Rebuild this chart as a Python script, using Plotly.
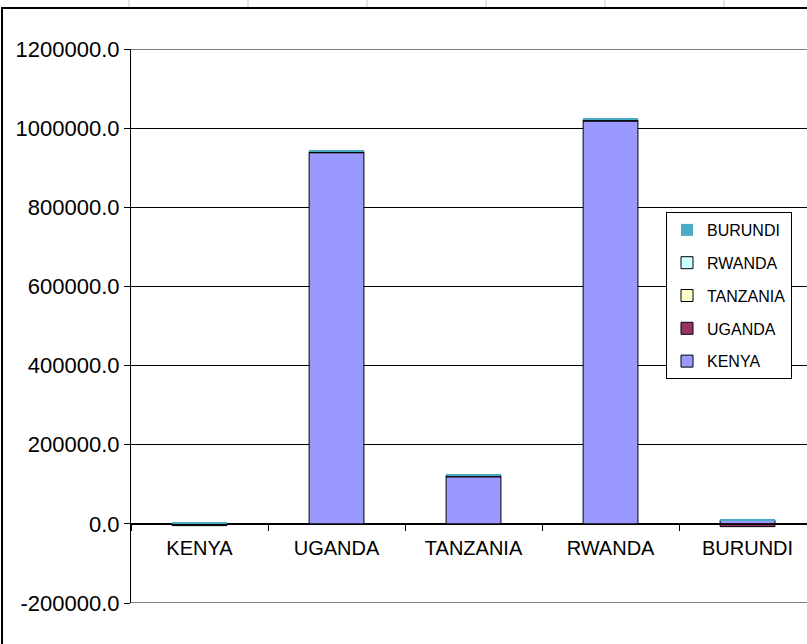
import plotly.graph_objects as go

# Categories along the x axis (reporting country)
countries = ["KENYA", "UGANDA", "TANZANIA", "RWANDA", "BURUNDI"]

# Stacked series values, one list per partner country
kenya = [-3000, 938000, 119000, 1018000, 9000]
uganda = [-1500, 1200, 3500, 1200, -7000]
tanzania = [300, 600, 400, 800, 200]
rwanda = [400, 900, 500, 1000, 300]
burundi = [2500, 2500, 600, 2800, 400]

series_names = ["KENYA", "UGANDA", "TANZANIA", "RWANDA", "BURUNDI"]
series_values = [kenya, uganda, tanzania, rwanda, burundi]
series_colors = ["#9999FF", "#993366", "#FFFFCC", "#CCFFFF", "#4BACC6"]

y_ticks = [-200000, 0, 200000, 400000, 600000, 800000, 1000000, 1200000]
y_tick_text = ["%.1f" % v for v in y_ticks]

fig = go.Figure()
n = len(series_names)
for i, (name, vals, col) in enumerate(zip(series_names, series_values, series_colors)):
    line_w = 0 if name == "BURUNDI" else 1
    fig.add_trace(go.Bar(
        x=countries, y=vals, name=name, legendgroup=name,
        legendrank=n - i,
        marker=dict(color=col, line=dict(color="#000000", width=line_w)),
    ))

FONT = "Liberation Sans, Arial, sans-serif"

# pixel helpers for paper-referenced decorations (plot area 131..807 x 49..603)
def px_x(p):
    return (p - 131) / 676.0

def px_y(q):
    return (603 - q) / 554.0

shapes = []
# worksheet cell lines above the chart
for gx in [129, 248, 367, 486, 605, 724]:
    shapes.append(dict(type="line", xref="paper", yref="paper",
                       x0=px_x(gx), x1=px_x(gx), y0=px_y(0), y1=px_y(8),
                       line=dict(color="#C8C8C8", width=1)))
# chart area border (left and top)
shapes.append(dict(type="line", xref="paper", yref="paper",
                   x0=px_x(2), x1=px_x(2), y0=px_y(7), y1=px_y(644),
                   line=dict(color="#000000", width=2)))
shapes.append(dict(type="line", xref="paper", yref="paper",
                   x0=px_x(2), x1=px_x(807), y0=px_y(8), y1=px_y(8),
                   line=dict(color="#000000", width=2)))
# plot area top and bottom edges
for yv in [-200000, 1200000]:
    shapes.append(dict(type="line", xref="paper", yref="y",
                       x0=0, x1=1, y0=yv, y1=yv,
                       line=dict(color="#808080", width=2), layer="below"))

fig.update_layout(
    width=807, height=644,
    margin=dict(l=131, r=0, t=49, b=41),
    paper_bgcolor="white", plot_bgcolor="white",
    barmode="relative", bargap=0.6,
    font=dict(family=FONT, color="#000000"),
    showlegend=True,
    legend=dict(
        x=px_x(666), y=px_y(212), xanchor="left", yanchor="top",
        bgcolor="white", bordercolor="#000000", borderwidth=1,
        font=dict(size=16, family=FONT, color="#000000"),
        traceorder="grouped", tracegroupgap=9,
        itemclick=False,
    ),
    xaxis=dict(
        type="category", range=[-0.5, 4.434],
        anchor="free", position=1 / 7,
        showline=True, linecolor="#000000", linewidth=1,
        ticks="outside", tickson="boundaries", ticklen=6, tickcolor="#000000",
        ticklabelstandoff=6,
        showgrid=False, zeroline=False,
        tickfont=dict(size=20, family=FONT),
    ),
    yaxis=dict(
        range=[-200000, 1200000],
        tickmode="array", tickvals=y_ticks, ticktext=y_tick_text,
        showline=True, linecolor="#000000", linewidth=1,
        ticks="outside", ticklen=6, tickcolor="#000000",
        showgrid=True, gridcolor="#000000", gridwidth=1,
        zeroline=True, zerolinecolor="#000000", zerolinewidth=1,
        tickfont=dict(size=22, family=FONT),
    ),
    shapes=shapes,
)

fig.write_html("out.html")
